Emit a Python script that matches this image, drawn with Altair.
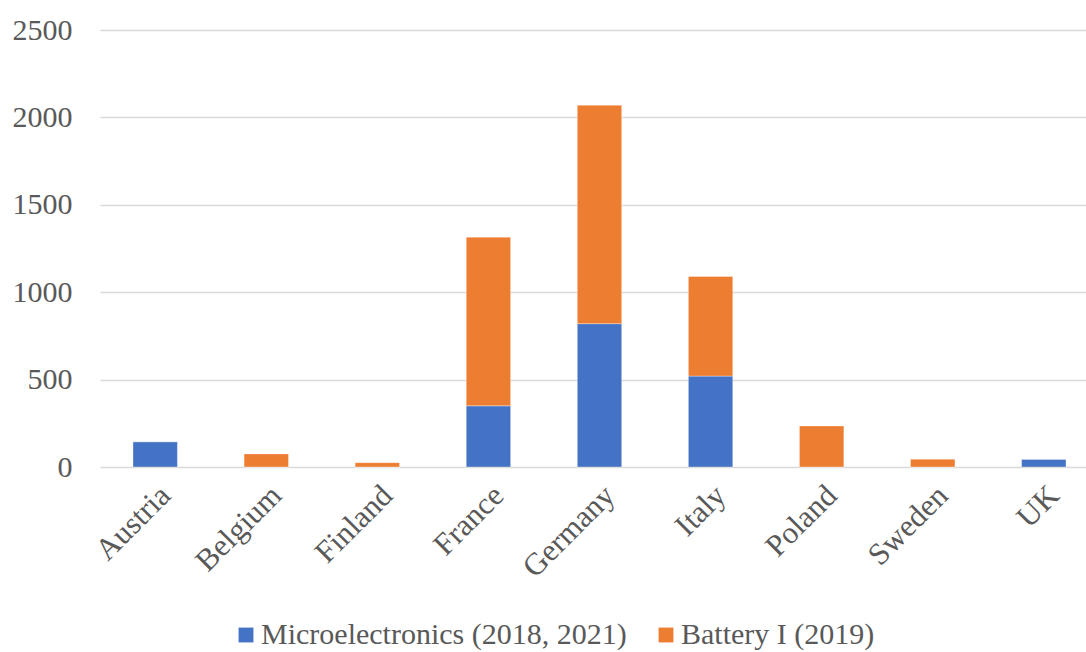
import altair as alt
import pandas as pd

countries = ["Austria", "Belgium", "Finland", "France", "Germany", "Italy", "Poland", "Sweden", "UK"]
microelectronics = [145, 0, 0, 350, 820, 520, 0, 0, 45]
battery = [0, 75, 25, 965, 1250, 570, 235, 45, 0]

series = ["Microelectronics (2018, 2021)", "Battery I (2019)"]
colors = ["#4472C4", "#ED7D31"]

rows = []
for c, m, b in zip(countries, microelectronics, battery):
    rows.append({"country": c, "series": series[0], "value": m, "order": 0})
    rows.append({"country": c, "series": series[1], "value": b, "order": 1})
df = pd.DataFrame(rows)

font = "Liberation Serif"
text_color = "#595959"

chart = (
    alt.Chart(df)
    .mark_bar(stroke="white", strokeWidth=0.6, strokeOpacity=0.6)
    .encode(
        x=alt.X(
            "country:N",
            sort=countries,
            title=None,
            scale=alt.Scale(paddingInner=0.6, paddingOuter=0.297, range=[0, 999]),
            axis=alt.Axis(
                labelAngle=-45,
                labelAlign="right",
                labelBaseline="top",
                labelPadding=13,
                labelFontSize=31,
                labelFont=font,
                labelColor=text_color,
                ticks=False,
                domain=False,
                grid=False,
            ),
        ),
        y=alt.Y(
            "value:Q",
            stack="zero",
            title=None,
            scale=alt.Scale(domain=[0, 2500], nice=False),
            axis=alt.Axis(
                values=[0, 500, 1000, 1500, 2000, 2500],
                format="d",
                labelFontSize=30,
                labelFont=font,
                labelColor=text_color,
                labelPadding=28,
                ticks=False,
                domain=False,
                gridColor="#d9d9d9",
                gridWidth=1.5,
            ),
        ),
        color=alt.Color(
            "series:N",
            scale=alt.Scale(domain=series, range=colors),
            legend=alt.Legend(
                title=None,
                orient="none",
                direction="horizontal",
                legendX=131,
                legendY=590,
                symbolType="square",
                symbolSize=220,
                symbolStrokeWidth=0,
                labelFontSize=30,
                labelFont=font,
                labelColor=text_color,
                labelOffset=0,
                columnPadding=24,
                labelLimit=500,
            ),
        ),
        order=alt.Order("order:Q"),
    )
    .properties(
        width=986,
        height=437,
        padding={"left": 100, "top": 30, "right": 0, "bottom": 185},
        autosize=alt.AutoSizeParams(type="none"),
    )
    .configure_view(stroke=None)
)

chart.save("out.html", embed_options={"renderer": "svg", "actions": False})
